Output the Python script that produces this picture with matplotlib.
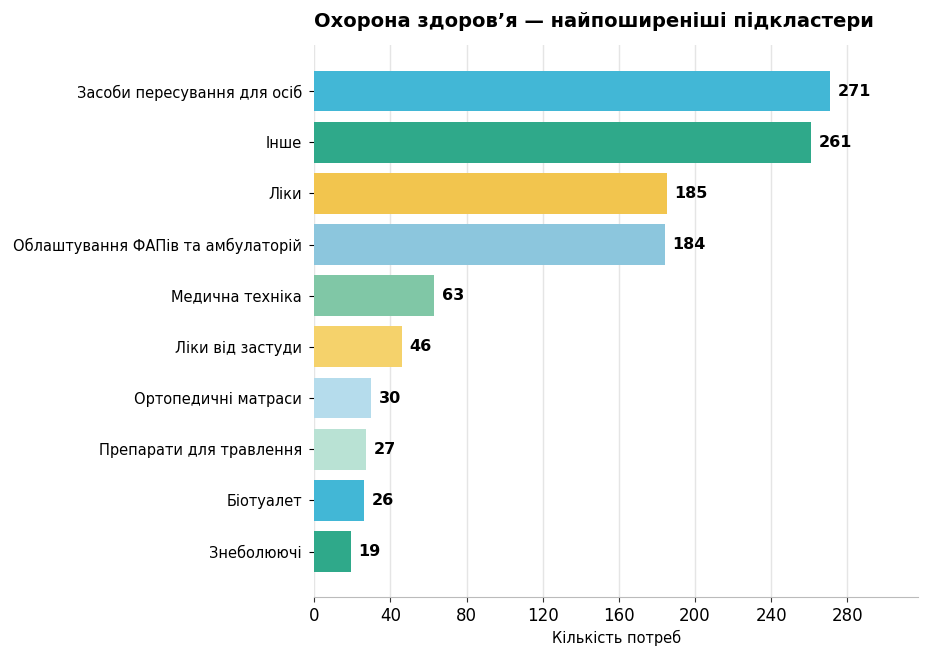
import matplotlib
matplotlib.use("Agg")
import matplotlib.pyplot as plt

categories = [
    "Засоби пересування для осіб",
    "Інше",
    "Ліки",
    "Облаштування ФАПів та амбулаторій",
    "Медична техніка",
    "Ліки від застуди",
    "Ортопедичні матраси",
    "Препарати для травлення",
    "Біотуалет",
    "Знеболюючі",
]
counts = [271, 261, 185, 184, 63, 46, 30, 27, 26, 19]
colors = ["#42b7d6", "#2fa98a", "#f2c54e", "#8cc6dd", "#80c7a6",
          "#f5d26b", "#b5dcec", "#b9e2d4", "#42b7d6", "#2fa98a"]


def plot_chart():
    fig, ax = plt.subplots(figsize=(9.3, 6.59), dpi=100)
    fig.subplots_adjust(left=0.338, right=0.987, top=0.931, bottom=0.094)

    ys = list(range(len(categories)))
    ax.barh(ys, counts, height=0.8, color=colors, zorder=2)
    ax.set_yticks(ys)
    ax.set_yticklabels(categories, fontsize=10.5)
    ax.tick_params(axis="y", pad=5.5)
    ax.invert_yaxis()

    # value labels right of each bar
    for y, v in zip(ys, counts):
        ax.text(v + 4, y, str(v), va="center", ha="left",
                fontsize=11.5, fontweight="bold")

    ax.set_xlim(0, max(counts) * 1.17)
    ax.set_xticks(range(0, 281, 40))
    ax.tick_params(axis="x", labelsize=12, colors="#333333", labelcolor="black")
    ax.set_xlabel("Кількість потреб", fontsize=10.5)
    ax.set_title("Охорона здоров’я — найпоширеніші підкластери",
                 fontsize=14, fontweight="bold", loc="left", pad=13)

    ax.grid(axis="x", color="#e5e5e5", linewidth=1, zorder=0)
    for side in ["top", "right", "left"]:
        ax.spines[side].set_visible(False)
    ax.spines["bottom"].set_color("#bbbbbb")

    fig.savefig("out.png", dpi=100)


plot_chart()
